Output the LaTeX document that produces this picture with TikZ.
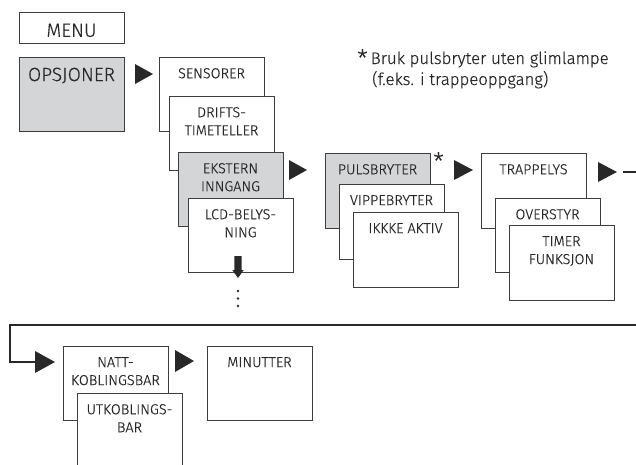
\documentclass[tikz,border=0pt]{standalone}
\usepackage{fontspec}
\setmainfont{Fira Sans}[UprightFont=* Light, UprightFeatures={FakeBold=0.4}]
\definecolor{boxgray}{RGB}{212,213,215}
\definecolor{ink}{RGB}{40,40,40}
\begin{document}
\begin{tikzpicture}[x=1pt,y=-1pt,
  box/.style={draw=ink!90, line width=0.9pt, fill=white, inner sep=0, minimum width=105, minimum height=74},
  graybox/.style={box, fill=boxgray},
  txt/.style={font=\fontsize{14.4}{18}\selectfont, text=ink, align=center, inner sep=0, anchor=north},
  bigtxt/.style={font=\fontsize{19.2}{22}\selectfont, text=ink, inner sep=0, anchor=north},
  notetxt/.style={font=\fontsize{16.8}{21}\selectfont, text=ink, inner sep=0, anchor=base west},
  startxt/.style={font=\fontsize{24}{24}\selectfont, text=ink, inner sep=0, anchor=north},
  tri/.style={fill=ink},
  conn/.style={draw=ink, line width=2.6pt, line join=miter}]
\useasboundingbox (0,0) rectangle (636,464);
\clip (0,0) rectangle (636,464);
% MENU and OPSJONER
\node[box, minimum height=31] (menu) at (71.5,27.5) {};
\node[bigtxt] (menut) at (71.5,23.5) {MENU};
\node[graybox] (ops) at (71.5,94) {};
\node[bigtxt] (opst) at (71.5,67.5) {OPSJONER};
\fill[tri] (135,64) -- (153,74) -- (135,84) -- cycle;
% first column
\node[box] (sens) at (211.5,94) {};
\node[txt] (senst) at (211.5,68) {SENSORER};
\node[box] (drift) at (221.5,133) {};
\node[txt] (driftt) at (221.5,107) {DRIFTS-\\TIMETELLER};
\node[graybox] (ekst) at (230.5,189) {};
\node[txt] (ekstt) at (230.5,163) {EKSTERN\\INNGANG};
\node[box] (lcd) at (240.5,235) {};
\node[txt] (lcdt) at (240.5,209) {LCD-BELYS-\\NING};
\fill[ink] (234.3,256) -- (241.7,256) -- (241.7,270) -- (243.7,270) -- (238,278) -- (232.3,270) -- (234.3,270) -- cycle;
\foreach \yy in {291,298.5,306} \fill[ink] (238,\yy) circle (1.3);
\fill[tri] (289,160) -- (307,170) -- (289,180) -- cycle;
% second column
\node[graybox, minimum height=75] (puls) at (377.5,190.5) {};
\node[txt] (pulst) at (377.5,164) {PULSBRYTER};
\node[startxt] (star1) at (438.5,152) {*};
\node[box, minimum height=75] (vippe) at (391.5,221.5) {};
\node[txt] (vippet) at (391.5,195) {VIPPEBRYTER};
\node[box, minimum height=75] (ikke) at (405.5,249.5) {};
\node[txt] (ikket) at (405.5,223) {IKKKE AKTIV};
\fill[tri] (454,160) -- (473,170) -- (454,180) -- cycle;
% third column
\node[box, minimum height=75] (trapp) at (533.5,190.5) {};
\node[txt] (trappt) at (533.5,164) {TRAPPELYS};
\node[box] (over) at (547.5,235) {};
\node[txt] (overt) at (547.5,209) {OVERSTYR};
\node[box, minimum height=75] (timer) at (561.5,262.5) {};
\node[txt] (timert) at (561.5,236) {TIMER\\FUNKSJON};
\fill[tri] (598,162) -- (617,172) -- (598,182) -- cycle;
% connector running around
\coordinate (c1) at (623,172);
\coordinate (c2) at (645,172);
\coordinate (c3) at (645,325);
\coordinate (c4) at (10,325);
\coordinate (c5) at (36,362);
\draw[conn] (c1) -- (c2);
\draw[conn] (c3) -- (c4) |- (c5);
\fill[tri] (35,351) -- (55,362) -- (35,373) -- cycle;
% bottom row
\node[box] (natt) at (115.5,383) {};
\node[txt] (nattt) at (115.5,357) {NATT-\\KOBLINGSBAR};
\node[box, minimum height=76] (utk) at (129.5,431) {};
\node[txt] (utkt) at (129.5,404) {UTKOBLINGS-\\BAR};
\fill[tri] (175,350) -- (194,361) -- (175,372) -- cycle;
\node[box] (minu) at (259.5,383) {};
\node[txt] (minut) at (259.5,357) {MINUTTER};
% note
\node[startxt] (star2) at (362.5,49) {*};
\node[notetxt] (note1) at (370.5,64) {Bruk pulsbryter uten glimlampe};
\node[notetxt] (note2) at (372,85) {(f.eks. i trappeoppgang)};
\end{tikzpicture}
\end{document}
